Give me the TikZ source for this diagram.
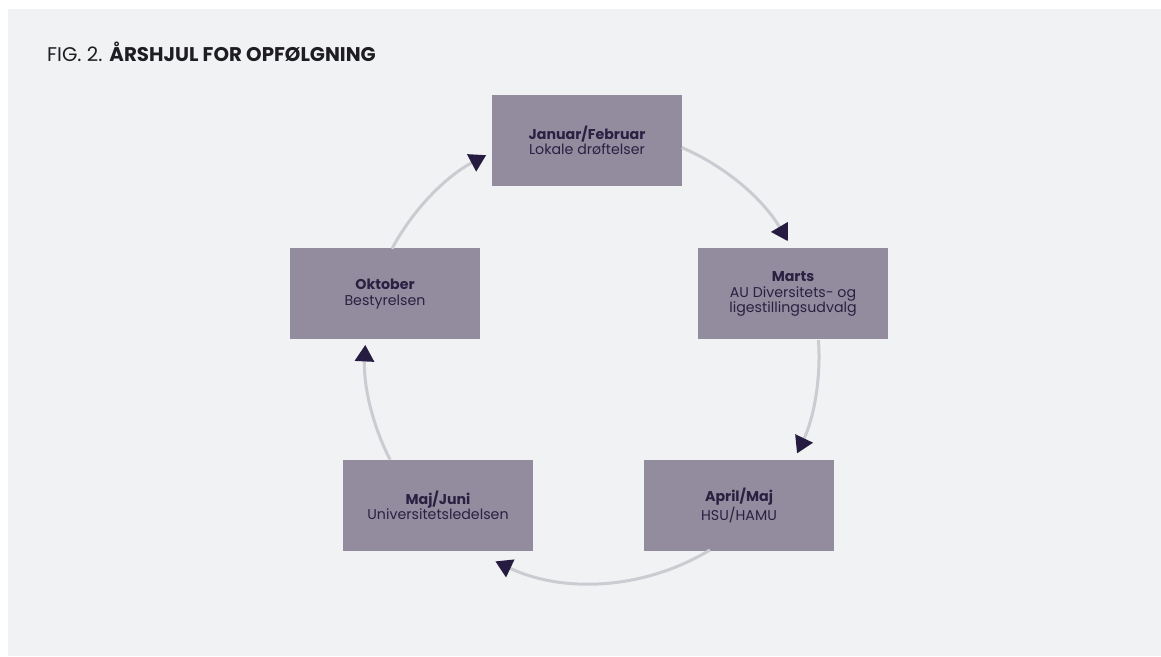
\documentclass[tikz,border=0pt]{standalone}
\usepackage{fontspec}
\setmainfont{Poppins}
\usetikzlibrary{arrows.meta,calc}
\definecolor{panel}{HTML}{F1F2F4}
\definecolor{boxfill}{HTML}{928C9E}
\definecolor{boxtext}{HTML}{2A2042}
\definecolor{arrowcol}{HTML}{261C42}
\definecolor{linecol}{HTML}{CDCBD2}
\definecolor{titlecol}{HTML}{1E1E22}
\tikzset{
  x=1pt,y=1pt,
  stage/.style={draw=none,fill=boxfill,minimum width=190pt,minimum height=91pt,
    inner sep=0pt,align=center,text=boxtext,font=\fontsize{14.2}{15.5}\selectfont},
  conn/.style={draw=linecol,line width=3pt,
    -{Triangle[length=16.5pt,width=19pt,color=arrowcol]}}
}
\newcommand{\Rad}{227}
\begin{document}
\begin{tikzpicture}
\useasboundingbox (0,0) rectangle (1161,656);
\fill[white] (0,0) rectangle (1161,656);
\fill[panel] (8,0) rectangle (1161,647);
\node[anchor=base west,text=titlecol,font=\fontsize{19.8}{22}\selectfont,inner sep=0pt] (title) at (47,594)
  {FIG. 2. \textbf{ÅRSHJUL FOR OPFØLGNING}};
\node[stage] (jan) at (587,515.5) {\textbf{Januar/Februar}\\Lokale drøftelser};
\node[stage] (marts) at (793,362) {\textbf{Marts}\\AU Diversitets- og\\ligestillingsudvalg};
\node[stage] (april) at (739,150.5) {\textbf{April/Maj}\\HSU/HAMU};
\node[stage] (majjuni) at (438,150.5) {\textbf{Maj/Juni}\\Universitetsledelsen};
\node[stage] (okt) at (385,362) {\textbf{Oktober}\\Bestyrelsen};
\coordinate (ctr) at (592,300);
\coordinate (s1) at ($(ctr)+(66.7:\Rad)$);
\coordinate (s2) at ($(ctr)+(4:\Rad)$);
\coordinate (s3) at ($(ctr)+(-58.7:\Rad)$);
\coordinate (s4) at ($(ctr)+(-152.8:\Rad)$);
\coordinate (s5) at ($(ctr)+(151.8:\Rad)$);
\draw[conn] (s1) arc[start angle=66.7,end angle=30.4,radius=\Rad];
\draw[conn] (s2) arc[start angle=4,end angle=-25.4,radius=\Rad];
\draw[conn] (s3) arc[start angle=-58.7,end angle=-115.2,radius=\Rad];
\draw[conn] (s4) arc[start angle=-152.8,end angle=-182.8,radius=\Rad];
\draw[conn] (s5) arc[start angle=151.8,end angle=117.8,radius=\Rad];
\end{tikzpicture}
\end{document}
